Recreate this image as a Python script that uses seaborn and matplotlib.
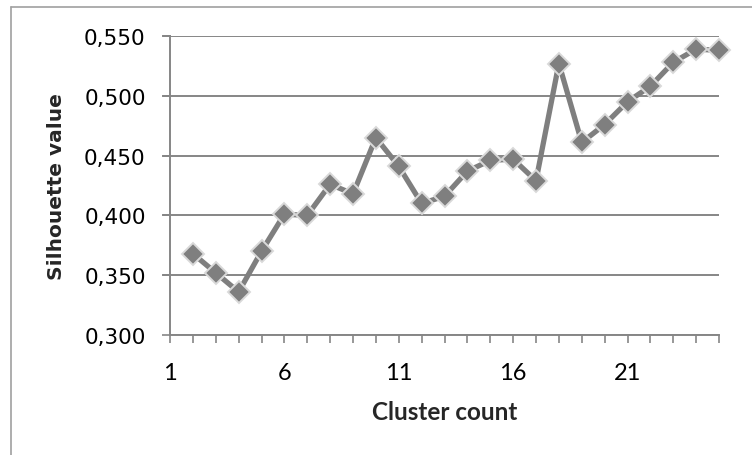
import matplotlib
matplotlib.use("Agg")
import matplotlib.pyplot as plt
import matplotlib.lines as mlines
from matplotlib.ticker import FuncFormatter, MultipleLocator, FixedLocator
import seaborn as sns
import pandas as pd

# Silhouette score per number of clusters
cluster_count = [2, 3, 4, 5, 6, 7, 8, 9, 10, 11, 12, 13, 14, 15, 16, 17,
                 18, 19, 20, 21, 22, 23, 24, 25]
silhouette = [0.368, 0.352, 0.336, 0.370, 0.401, 0.400, 0.426, 0.418, 0.465,
              0.441, 0.410, 0.416, 0.437, 0.446, 0.447, 0.429, 0.527, 0.461,
              0.476, 0.495, 0.508, 0.528, 0.539, 0.538]
x_tick_labels = [1, 6, 11, 16, 21]
y_ticks = [0.300, 0.350, 0.400, 0.450, 0.500, 0.550]

df = pd.DataFrame({"Cluster count": cluster_count, "Silhouette value": silhouette})

sns.set_theme(style="white")
plt.rcParams["font.family"] = ["DejaVu Sans"]

fig = plt.figure(figsize=(7.52, 4.56), dpi=100)
ax = fig.add_axes([170 / 752, 1 - 336 / 456, (719 - 170) / 752, (336 - 37) / 456])

axis_grey = "#868686"
line_grey = "#7f7f7f"

sns.lineplot(data=df, x="Cluster count", y="Silhouette value", ax=ax,
             color=line_grey, linewidth=3.8, marker="D", markersize=11.5,
             markerfacecolor=line_grey, markeredgecolor="#d9d9d9",
             markeredgewidth=1.4, zorder=3, clip_on=False)

ax.set_xlim(1, 25)
ax.set_ylim(0.300, 0.550)

ax.yaxis.set_major_locator(FixedLocator(y_ticks))
ax.yaxis.set_major_formatter(FuncFormatter(lambda v, p: f"{v:.3f}".replace(".", ",")))
ax.xaxis.set_major_locator(MultipleLocator(1))
ax.xaxis.set_major_formatter(
    FuncFormatter(lambda v, p: str(int(round(v))) if int(round(v)) in x_tick_labels else ""))

ax.grid(axis="y", color=axis_grey, linewidth=1.4)
ax.grid(axis="x", visible=False)
ax.set_axisbelow(True)

for side in ("top", "right"):
    ax.spines[side].set_visible(False)
for side in ("left", "bottom"):
    ax.spines[side].set_color(axis_grey)
    ax.spines[side].set_linewidth(1.4)

ax.tick_params(axis="y", which="major", direction="out", length=5.5, width=1.2,
               color=axis_grey, pad=12, labelsize=15.5, labelcolor="black", left=True)
ax.tick_params(axis="x", which="major", direction="out", length=5.5, width=1.2,
               color=axis_grey, pad=14, labelsize=17, labelcolor="black", bottom=True)
for lbl in ax.get_xticklabels():
    lbl.set_family("Lato")

# the y gridlines extend through the tick marks on the left
for yv in y_ticks[1:]:
    ax.add_line(mlines.Line2D([-0.013, 0], [yv, yv], transform=ax.get_yaxis_transform(),
                              color=axis_grey, linewidth=1.4, clip_on=False))

ax.set_ylabel("Silhouette value", fontsize=14.5, fontweight="bold",
              family="DejaVu Sans", labelpad=13)
ax.set_xlabel("Cluster count", fontsize=17.5, fontweight="bold",
              family="Lato", labelpad=12)

# chart frame
fig.add_artist(mlines.Line2D([11 / 752, 1.0], [1 - 8 / 456, 1 - 8 / 456],
                             transform=fig.transFigure, color="#a0a0a0", linewidth=1.2))
fig.add_artist(mlines.Line2D([11 / 752, 11 / 752], [0.0, 1 - 8 / 456],
                             transform=fig.transFigure, color="#a0a0a0", linewidth=1.2))

fig.savefig("out.png", dpi=100)
